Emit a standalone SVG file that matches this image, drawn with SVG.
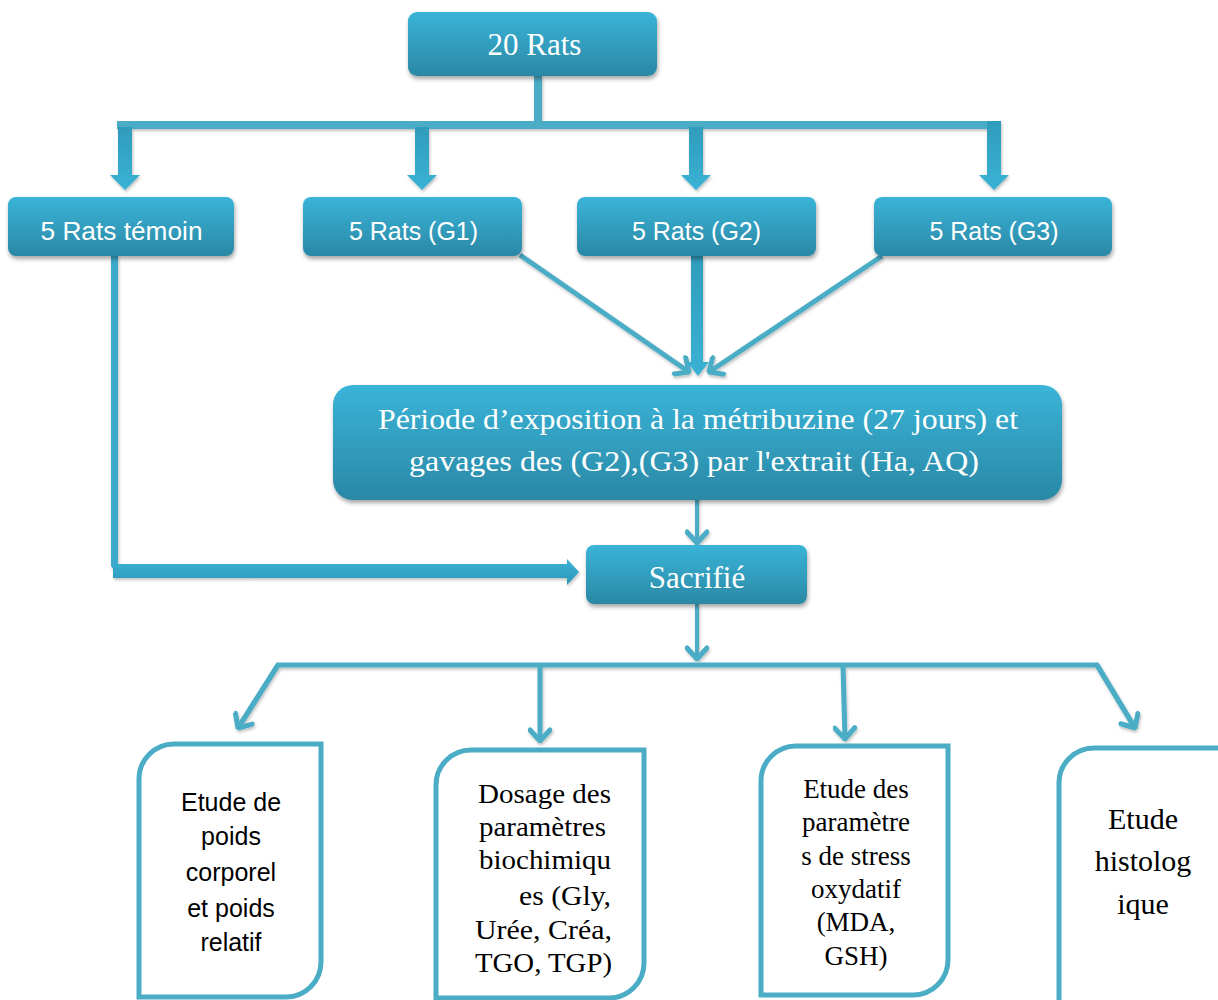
<svg xmlns="http://www.w3.org/2000/svg" width="1218" height="1000" viewBox="0 0 1218 1000">
<defs>
<linearGradient id="gBox" x1="0" y1="0" x2="0" y2="1">
<stop offset="0" stop-color="#3ab4d8"/>
<stop offset="1" stop-color="#2a88a5"/>
</linearGradient>
<linearGradient id="gArrV" x1="0" y1="0" x2="0" y2="1">
<stop offset="0" stop-color="#2f9cbc"/>
<stop offset="1" stop-color="#3ab2d4"/>
</linearGradient>
<linearGradient id="gArrH" x1="0" y1="0" x2="0" y2="1">
<stop offset="0" stop-color="#3ab2d4"/>
<stop offset="1" stop-color="#2e98b8"/>
</linearGradient>
<filter id="sh" x="-10%" y="-20%" width="120%" height="150%">
<feDropShadow dx="1" dy="3" stdDeviation="2" flood-color="#000" flood-opacity="0.35"/>
</filter>
<filter id="shl" x="-10%" y="-10%" width="120%" height="120%">
<feDropShadow dx="1" dy="2" stdDeviation="1.5" flood-color="#000" flood-opacity="0.25"/>
</filter>
<marker id="vh" viewBox="-14 -12 16 24" refX="0" refY="0" markerWidth="16" markerHeight="24" markerUnits="userSpaceOnUse" orient="auto">
<path d="M-11,-10 L0,0 L-11,10" fill="none" stroke="#4bacc6" stroke-width="5" stroke-linecap="round" stroke-linejoin="miter"/>
</marker>
</defs>
<style>
.box{fill:url(#gBox);filter:url(#sh);}
.tw{fill:#ffffff;text-anchor:middle;}
.serif{font-family:"Liberation Serif","Times New Roman",serif;}
.sans{font-family:"Liberation Sans",Arial,sans-serif;}
.ob{fill:#ffffff;stroke:#4bacc6;stroke-width:5;}
.tb{fill:#000000;text-anchor:middle;}
.ln{fill:none;stroke:#4bacc6;stroke-linecap:butt;}
.blk{fill:#4bacc6;}
</style>

<g id="connectors" filter="url(#shl)">
<rect class="blk" x="534" y="76" width="8" height="49"/>
<rect class="blk" x="117" y="121" width="883" height="8"/>
<polygon fill="url(#gArrV)" points="118,127 132,127 132,175 140,175 125,190 110,175 118,175"/>
<polygon fill="url(#gArrV)" points="415,127 429,127 429,175 437,175 422,190 407,175 415,175"/>
<polygon fill="url(#gArrV)" points="689,127 703,127 703,175 711,175 696,190 681,175 689,175"/>
<polygon fill="url(#gArrV)" points="987,121 1001,121 1001,175 1009,175 994,190 979,175 987,175"/>
<line class="ln" x1="520" y1="255" x2="689" y2="372" stroke-width="5" marker-end="url(#vh)"/>
<line class="ln" x1="882" y1="256" x2="709" y2="372" stroke-width="5" marker-end="url(#vh)"/>
<polygon fill="url(#gArrV)" points="691,256 703,256 703,362 709,362 698,376 687,362 691,362"/>
<line class="ln" x1="697" y1="492" x2="697" y2="543" stroke-width="4" marker-end="url(#vh)"/>
<polygon fill="#3aa9c9" points="111,256 118,256 118,566 116,573 111,566"/>
<polygon fill="url(#gArrH)" points="113,564 567,564 567,559 579,572 567,585 567,578 113,578"/>
<line class="ln" x1="697" y1="604" x2="697" y2="659" stroke-width="4" marker-end="url(#vh)"/>
<polyline class="ln" points="238,728 278,665 1097,665 1135,728" stroke-width="5" stroke-linejoin="miter"/>
<line class="ln" x1="278" y1="665" x2="238" y2="728" stroke-width="5" marker-end="url(#vh)"/>
<line class="ln" x1="1097" y1="665" x2="1135" y2="728" stroke-width="5" marker-end="url(#vh)"/>
<line class="ln" x1="540" y1="665" x2="540" y2="741" stroke-width="5" marker-end="url(#vh)"/>
<line class="ln" x1="843" y1="665" x2="845" y2="739" stroke-width="5" marker-end="url(#vh)"/>
</g>

<g id="n-20rats">
<rect class="box" x="408" y="12" width="249" height="64" rx="9"/>
<text class="tw serif" x="534.5" y="55" font-size="31">20 Rats</text>
</g>
<g id="n-temoin">
<rect class="box" x="8" y="197" width="226" height="59" rx="8"/>
<text class="tw sans" x="121.5" y="240" font-size="25" textLength="162" lengthAdjust="spacingAndGlyphs">5 Rats témoin</text>
</g>
<g id="n-g1">
<rect class="box" x="303" y="197" width="219" height="59" rx="8"/>
<text class="tw sans" x="413.5" y="240" font-size="25">5 Rats (G1)</text>
</g>
<g id="n-g2">
<rect class="box" x="577" y="197" width="239" height="59" rx="8"/>
<text class="tw sans" x="696.5" y="240" font-size="25">5 Rats (G2)</text>
</g>
<g id="n-g3">
<rect class="box" x="874" y="197" width="238" height="59" rx="8"/>
<text class="tw sans" x="994" y="240" font-size="25">5 Rats (G3)</text>
</g>
<g id="n-exposition">
<rect class="box" x="333" y="385" width="729" height="115" rx="20"/>
<text class="tw serif" x="698" y="429" font-size="29" textLength="640" lengthAdjust="spacingAndGlyphs">Période d’exposition à la métribuzine (27 jours) et</text>
<text class="tw serif" x="694" y="471" font-size="29" textLength="570" lengthAdjust="spacingAndGlyphs">gavages des (G2),(G3) par l'extrait (Ha, AQ)</text>
</g>
<g id="n-sacrifie">
<rect class="box" x="586" y="545" width="221" height="59" rx="8"/>
<text class="tw serif" x="697" y="588" font-size="31">Sacrifié</text>
</g>
<g id="n-poids">
<path class="ob" d="M139,779 A35,35 0 0 1 174,744 H321 V962 A35,35 0 0 1 286,997 H139 Z"/>
<g class="tb sans" font-size="25">
<text x="231" y="811">Etude de</text>
<text x="231" y="845">poids</text>
<text x="231" y="881">corporel</text>
<text x="231" y="917">et poids</text>
<text x="231" y="951">relatif</text>
</g>
</g>
<g id="n-biochimie">
<path class="ob" d="M436,785 A35,35 0 0 1 471,750 H644 V963 A35,35 0 0 1 609,998 H436 Z"/>
<g class="serif" font-size="27" fill="#000">
<text x="478" y="803" textLength="133" lengthAdjust="spacingAndGlyphs">Dosage des</text>
<text x="479" y="836" textLength="127" lengthAdjust="spacingAndGlyphs">paramètres</text>
<text x="479" y="869" textLength="132" lengthAdjust="spacingAndGlyphs">biochimiqu</text>
<text x="519" y="905" textLength="92" lengthAdjust="spacingAndGlyphs">es (Gly,</text>
<text x="475" y="939" textLength="137" lengthAdjust="spacingAndGlyphs">Urée,  Créa,</text>
<text x="475" y="972" textLength="137" lengthAdjust="spacingAndGlyphs">TGO, TGP)</text>
</g>
</g>
<g id="n-stress">
<path class="ob" d="M761,781 A35,35 0 0 1 796,746 H948 V960 A35,35 0 0 1 913,995 H761 Z"/>
<g class="tb serif" font-size="27">
<text x="856" y="798">Etude des</text>
<text x="856" y="831">paramètre</text>
<text x="856" y="865">s de stress</text>
<text x="856" y="898">oxydatif</text>
<text x="856" y="931">(MDA,</text>
<text x="856" y="965">GSH)</text>
</g>
</g>
<g id="n-histologie">
<path class="ob" d="M1059,783 A35,35 0 0 1 1094,748 H1230 V1010 H1059 Z"/>
<g class="tb serif" font-size="30">
<text x="1143" y="829">Etude</text>
<text x="1143" y="871">histolog</text>
<text x="1143" y="914">ique</text>
</g>
</g>
</svg>
